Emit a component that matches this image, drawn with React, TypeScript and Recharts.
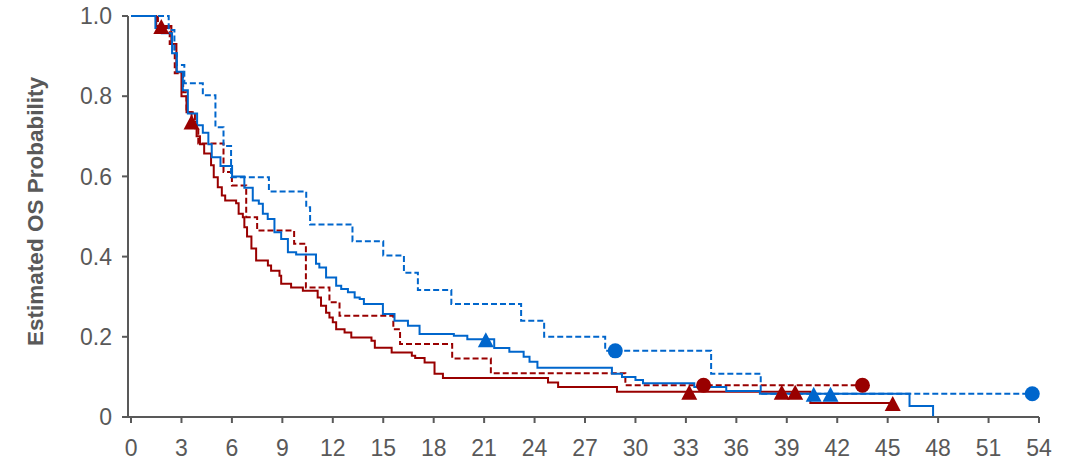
import { ComposedChart, Line, Scatter, XAxis, YAxis, Label } from 'recharts';

const xTicks = [0, 3, 6, 9, 12, 15, 18, 21, 24, 27, 30, 33, 36, 39, 42, 45, 48, 51, 54];
const yTicks = [0, 0.2, 0.4, 0.6, 0.8, 1.0];

// red solid arm
const redSolidMonths = [0, 1.5, 2.4, 2.7, 3.0, 3.3, 3.6, 3.9, 4.1, 4.35, 4.76, 4.92, 5.16, 5.4, 5.6, 6.25, 6.4, 6.65, 6.74, 6.9, 7.16, 7.44, 8.14, 8.33, 8.83, 8.93, 9.52, 10.22, 11.1, 11.3, 11.6, 11.8, 12.0, 12.2, 12.7, 13.1, 14.3, 14.5, 15.5, 16.7, 16.9, 17.46, 18.05, 18.55, 24.8, 25.4, 28.9, 40.4, 45.3];
const redSolidProb = [1.0, 0.975, 0.93, 0.86, 0.8, 0.76, 0.737, 0.7, 0.68, 0.657, 0.6275, 0.598, 0.573, 0.5525, 0.54, 0.533, 0.507, 0.498, 0.473, 0.45, 0.42, 0.39, 0.3775, 0.365, 0.3525, 0.332, 0.323, 0.315, 0.298, 0.2775, 0.26, 0.248, 0.236, 0.219, 0.211, 0.198, 0.19, 0.173, 0.161, 0.1525, 0.147, 0.136, 0.108, 0.097, 0.086, 0.075, 0.063, 0.035, 0.035];

// red dashed arm
const redDashMonths = [0, 1.6, 2.3, 2.6, 3.1, 3.3, 3.8, 4.0, 5.5, 6.0, 6.85, 7.5, 9.7, 10.4, 11.8, 12.4, 15.6, 16.0, 19.1, 21.4, 29.4, 43.5];
const redDashProb = [1.0, 0.97, 0.93, 0.857, 0.81, 0.76, 0.72, 0.682, 0.611, 0.5775, 0.498, 0.465, 0.432, 0.323, 0.286, 0.2525, 0.219, 0.182, 0.146, 0.109, 0.079, 0.079];

// blue solid arm
const blueSolidMonths = [0, 1.45, 1.83, 2.44, 2.72, 3.08, 3.38, 3.93, 4.27, 4.6, 4.8, 5.32, 6.01, 6.74, 7.24, 7.6, 7.84, 8.13, 8.53, 8.93, 9.33, 9.82, 11.0, 11.2, 11.6, 12.2, 12.5, 12.9, 13.3, 13.6, 13.85, 14.98, 15.67, 16.47, 17.16, 19.2, 20.0, 21.6, 22.5, 23.35, 23.7, 24.17, 28.6, 29.2, 30.0, 30.45, 33.5, 35.4, 37.4, 46.3, 47.7];
const blueSolidProb = [1.0, 0.97, 0.957, 0.907, 0.861, 0.815, 0.757, 0.7275, 0.709, 0.68, 0.648, 0.626, 0.6, 0.572, 0.54, 0.532, 0.507, 0.494, 0.461, 0.444, 0.411, 0.405, 0.382, 0.373, 0.348, 0.3275, 0.319, 0.311, 0.298, 0.294, 0.282, 0.257, 0.24, 0.2275, 0.207, 0.2025, 0.194, 0.172, 0.163, 0.15, 0.1375, 0.123, 0.108, 0.1, 0.0925, 0.084, 0.075, 0.065, 0.058, 0.0275, 0];

// blue dashed arm
const blueDashMonths = [0, 2.24, 2.58, 2.72, 3.17, 4.27, 5.02, 5.5, 5.95, 8.2, 10.42, 10.65, 13.17, 15.0, 16.23, 17.06, 19.05, 23.2, 24.57, 28.2, 34.5, 37.45, 53.6];
const blueDashProb = [1.0, 0.965, 0.907, 0.8775, 0.8325, 0.8025, 0.7225, 0.676, 0.598, 0.5625, 0.523, 0.48, 0.4385, 0.4025, 0.36, 0.317, 0.2817, 0.24, 0.2, 0.165, 0.108, 0.058, 0.058];

// censor marks
const redTriMonths = [1.8, 3.6, 33.2, 38.7, 39.5, 45.3];
const redTriProb = [0.975, 0.737, 0.063, 0.063, 0.063, 0.035];
const redDotMonths = [34.05, 43.5];
const redDotProb = [0.079, 0.079];
const blueTriMonths = [21.1, 40.6, 41.6];
const blueTriProb = [0.194, 0.058, 0.058];
const blueDotMonths = [28.8, 53.6];
const blueDotProb = [0.165, 0.058];

const RED = '#990000';
const BLUE = '#0066CC';
const GREY = '#595959';

const zip = (t: number[], s: number[]) => t.map((v, i) => ({ t: v, s: s[i] }));

const redSolid = zip(redSolidMonths, redSolidProb);
const redDash = zip(redDashMonths, redDashProb);
const blueSolid = zip(blueSolidMonths, blueSolidProb);
const blueDash = zip(blueDashMonths, blueDashProb);

const triangle = (color: string) => (p: any) => {
  const { cx, cy } = p;
  const y = cy + 1;
  return <path d={`M${cx},${y - 8} L${cx + 8},${y + 7} L${cx - 8},${y + 7} Z`} fill={color} />;
};
const circle = (color: string) => (p: any) => <circle cx={p.cx} cy={p.cy} r={7.5} fill={color} />;

const yFmt = (v: number) => (v === 0 ? '0' : v.toFixed(1));

const yLabel = (p: any) => {
  const vb = p.viewBox;
  const x = vb.x + 43;
  const y = vb.y + vb.height / 2 - 5;
  return (
    <text x={x} y={y} transform={`rotate(-90 ${x} ${y})`} textAnchor="middle" fill={GREY} fontSize={22.5} fontWeight="bold">
      Estimated OS Probability
    </text>
  );
};

export default function App() {
  const tickStyle = { fill: GREY, fontSize: 23 };
  return (
    <div style={{ position: 'absolute', left: 0, top: 0, fontFamily: 'Arial, "Liberation Sans", sans-serif' }}>
      <ComposedChart width={1076} height={465} margin={{ top: 16, right: 37, left: 0, bottom: 0 }}>
        <XAxis
          type="number"
          dataKey="t"
          domain={[-0.18, 54]}
          ticks={xTicks}
          interval={0}
          height={48}
          tickSize={6}
          tickMargin={17}
          tick={tickStyle}
          axisLine={{ stroke: GREY, strokeWidth: 2 }}
          tickLine={{ stroke: GREY, strokeWidth: 2 }}
        />
        <YAxis
          type="number"
          dataKey="s"
          domain={[0, 1]}
          ticks={yTicks}
          interval={0}
          width={128}
          tickSize={6}
          tickMargin={10}
          tick={tickStyle}
          tickFormatter={yFmt}
          axisLine={{ stroke: GREY, strokeWidth: 2 }}
          tickLine={{ stroke: GREY, strokeWidth: 2 }}
        >
          <Label content={yLabel} />
        </YAxis>
        <Line data={redSolid} dataKey="s" type="stepAfter" stroke={RED} strokeWidth={2} dot={false} activeDot={false} isAnimationActive={false} />
        <Line data={redDash} dataKey="s" type="stepAfter" stroke={RED} strokeWidth={2} strokeDasharray="6 3" dot={false} activeDot={false} isAnimationActive={false} />
        <Line data={blueSolid} dataKey="s" type="stepAfter" stroke={BLUE} strokeWidth={2} dot={false} activeDot={false} isAnimationActive={false} />
        <Line data={blueDash} dataKey="s" type="stepAfter" stroke={BLUE} strokeWidth={2} strokeDasharray="6 3" dot={false} activeDot={false} isAnimationActive={false} />
        <Scatter data={zip(redTriMonths, redTriProb)} shape={triangle(RED)} isAnimationActive={false} />
        <Scatter data={zip(redDotMonths, redDotProb)} shape={circle(RED)} isAnimationActive={false} />
        <Scatter data={zip(blueTriMonths, blueTriProb)} shape={triangle(BLUE)} isAnimationActive={false} />
        <Scatter data={zip(blueDotMonths, blueDotProb)} shape={circle(BLUE)} isAnimationActive={false} />
      </ComposedChart>
    </div>
  );
}
